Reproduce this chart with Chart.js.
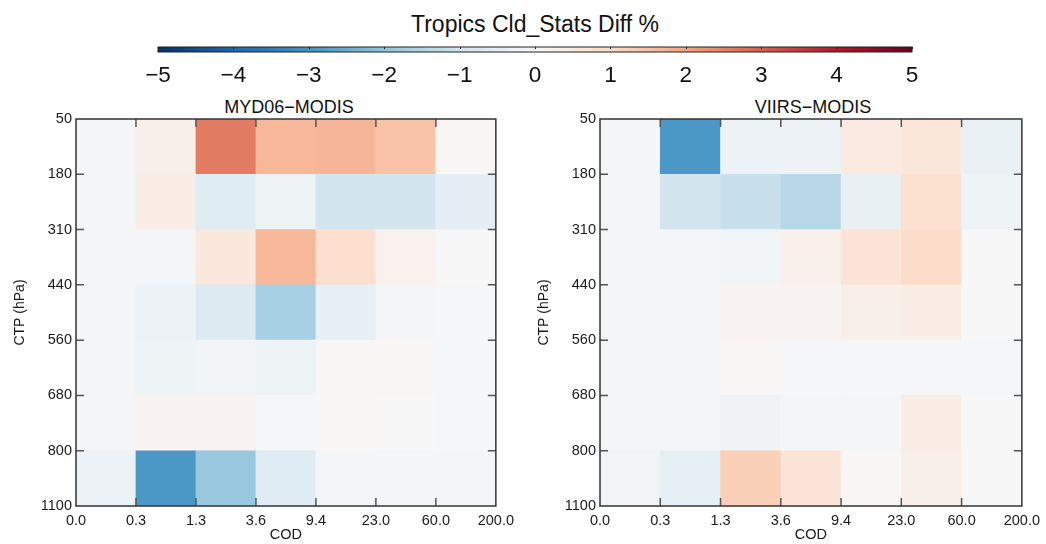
<!DOCTYPE html>
<html>
<head>
<meta charset="utf-8">
<script src="https://cdn.jsdelivr.net/npm/chart.js@4"></script>
<style>
  html, body { margin: 0; padding: 0; background: #fff; }
  body { width: 1046px; height: 544px; position: relative; overflow: hidden;
         font-family: "Liberation Sans", Arial, Helvetica, sans-serif; color: #111; }
  canvas { position: absolute; }
  .txt { position: absolute; white-space: nowrap; text-align: center; }
</style>
</head>
<body>
<div class="txt" id="mainTitle" style="left:335px;width:400px;top:13px;font-size:23px;line-height:23px;">Tropics Cld_Stats Diff %</div>
<div class="txt" style="left:189px;width:200px;top:98px;font-size:18px;line-height:18px;">MYD06−MODIS</div>
<div class="txt" style="left:713px;width:200px;top:98px;font-size:18px;line-height:18px;">VIIRS−MODIS</div>
<canvas id="cbar" width="870" height="100" style="left:100px;top:0px;"></canvas>
<canvas id="left" width="520" height="454" style="left:0px;top:90px;"></canvas>
<canvas id="right" width="522" height="454" style="left:524px;top:90px;"></canvas>
<script>
// ---------------- data ----------------
const codLabels = ['0.0', '0.3', '1.3', '3.6', '9.4', '23.0', '60.0', '200.0'];
const ctpLabels = ['50', '180', '310', '440', '560', '680', '800', '1100'];
const colorbarTicks = [-5, -4, -3, -2, -1, 0, 1, 2, 3, 4, 5];

// rows top (50-180 hPa) to bottom (800-1100 hPa), columns COD bins left to right
const myd06Diff = [
  [-0.10,  0.30,  2.60,  1.65,  1.70,  1.45,  0.05],
  [-0.10,  0.35, -0.60, -0.25, -0.95, -0.95, -0.50],
  [-0.10, -0.10,  0.55,  1.65,  0.85,  0.20,  0.00],
  [-0.10, -0.30, -0.70, -1.65, -0.45, -0.10, -0.05],
  [-0.10, -0.25, -0.15, -0.25,  0.05,  0.05, -0.05],
  [-0.10,  0.15,  0.15, -0.05,  0.05,  0.00, -0.05],
  [-0.30, -2.90, -1.90, -0.60, -0.10, -0.10, -0.10]
];
const viirsDiff = [
  [-0.10, -2.90, -0.30, -0.30,  0.45,  0.60, -0.35],
  [-0.10, -0.95, -1.15, -1.40, -0.40,  0.80, -0.25],
  [-0.10, -0.10, -0.15,  0.25,  0.70,  0.95,  0.00],
  [-0.10, -0.10,  0.15,  0.15,  0.30,  0.35,  0.00],
  [-0.10, -0.10,  0.05, -0.05, -0.05, -0.05, -0.05],
  [-0.10, -0.10, -0.20, -0.10, -0.10,  0.35,  0.00],
  [-0.15, -0.45,  1.20,  0.70,  0.05,  0.30,  0.00]
];

// ---------------- colour map (RdBu, -5 .. 5) ----------------
const rdbu = ['#053061','#2166ac','#4393c3','#92c5de','#d1e5f0','#f7f7f7',
              '#fddbc7','#f4a582','#d6604d','#b2182b','#67001f'];
function hex2rgb(h) { return [1,3,5].map(i => parseInt(h.substr(i,2),16)); }
function colorFor(v) {
  let t = Math.max(-5, Math.min(5, v)) + 5;
  let i = Math.min(9, Math.floor(t));
  const f = t - i;
  const a = hex2rgb(rdbu[i]), b = hex2rgb(rdbu[i+1]);
  const c = a.map((x, k) => Math.round(x + (b[k] - x) * f));
  return 'rgb(' + c.join(',') + ')';
}

const FONT = '"Liberation Sans", Arial, Helvetica, sans-serif';
Chart.defaults.font.family = FONT;
Chart.defaults.color = '#1a1a1a';

// frame + inward tick marks
const frameTicks = {
  id: 'frameTicks',
  afterDatasetsDraw(chart) {
    const {ctx, chartArea: a, scales: {x, y}} = chart;
    const L = 8;
    ctx.save();
    ctx.lineWidth = 1.5;
    ctx.strokeStyle = '#555';
    ctx.beginPath();
    for (let i = 1; i < codLabels.length - 1; i++) {
      const px = x.getPixelForValue(i);
      ctx.moveTo(px, a.top); ctx.lineTo(px, a.top + L);
      ctx.moveTo(px, a.bottom); ctx.lineTo(px, a.bottom - L);
    }
    for (let i = 1; i < ctpLabels.length - 1; i++) {
      const py = y.getPixelForValue(i);
      ctx.moveTo(a.left, py); ctx.lineTo(a.left + L, py);
      ctx.moveTo(a.right, py); ctx.lineTo(a.right - L, py);
    }
    ctx.stroke();
    ctx.strokeStyle = '#333';
    ctx.strokeRect(a.left, a.top, a.right - a.left, a.bottom - a.top);
    ctx.restore();
  }
};

function makeHeatmap(id, values, rightPad) {
  const pts = [], cols = [];
  values.forEach((row, r) => row.forEach((v, c) => {
    pts.push({x: c + 0.5, y: [r, r + 1]});
    cols.push(colorFor(v));
  }));
  return new Chart(document.getElementById(id), {
    type: 'bar',
    data: { datasets: [{ data: pts, backgroundColor: cols, borderWidth: 0,
                         barPercentage: 1, categoryPercentage: 1 }] },
    options: {
      responsive: false, animation: false,
      layout: { padding: { top: 29, right: rightPad, left: 0, bottom: 0 } },
      plugins: { legend: { display: false }, tooltip: { enabled: false } },
      scales: {
        x: {
          type: 'linear', min: 0, max: codLabels.length - 1, offset: false,
          grid: { display: false, drawTicks: false, offset: false }, border: { display: false },
          ticks: { stepSize: 1, autoSkip: false, maxRotation: 0, padding: 6,
                   font: { size: 14.5 }, callback: v => codLabels[v] },
          title: { display: true, text: 'COD', font: { size: 14.5 }, padding: { top: 0, bottom: 0 } },
          afterFit: s => { s.height = 38; }
        },
        y: {
          type: 'linear', min: 0, max: ctpLabels.length - 1, reverse: true,
          grid: { display: false, drawTicks: false }, border: { display: false },
          ticks: { stepSize: 1, autoSkip: false, padding: 4,
                   font: { size: 14.5 }, callback: v => ctpLabels[v] },
          title: { display: true, text: 'CTP (hPa)', font: { size: 14 }, padding: { top: 12, bottom: 0 } },
          afterFit: s => { s.width = 76; }
        }
      }
    },
    plugins: [frameTicks]
  });
}

makeHeatmap('left', myd06Diff, 18.5);
makeHeatmap('right', viirsDiff, 20.5);

// colour bar
const cbarFrame = {
  id: 'cbarFrame',
  afterDatasetsDraw(chart) {
    const {ctx, chartArea: a, scales: {x}} = chart;
    ctx.save();
    ctx.lineWidth = 1;
    ctx.strokeStyle = '#222';
    ctx.beginPath();
    colorbarTicks.forEach(v => {
      const px = Math.round(x.getPixelForValue(v)) + 0.5;
      ctx.moveTo(px, a.top); ctx.lineTo(px, a.top + 2);
    });
    ctx.stroke();
    ctx.strokeRect(a.left, a.top, a.right - a.left, a.bottom - a.top);
    ctx.restore();
  }
};
new Chart(document.getElementById('cbar'), {
  type: 'bar',
  data: { labels: [''], datasets: [{
    data: [[colorbarTicks[0], colorbarTicks[colorbarTicks.length - 1]]],
    borderWidth: 0, barPercentage: 1, categoryPercentage: 1,
    backgroundColor: ctx => {
      const ch = ctx.chart;
      if (!ch.chartArea) return '#ccc';
      const x = ch.scales.x;
      const x0 = x.getPixelForValue(-5), x1 = x.getPixelForValue(5);
      const g = ch.ctx.createLinearGradient(x0, 0, x1, 0);
      rdbu.forEach((c, i) => g.addColorStop(i / (rdbu.length - 1), c));
      return g;
    }
  }] },
  options: {
    indexAxis: 'y', responsive: false, animation: false,
    layout: { padding: { top: 47, left: 58, right: 58, bottom: 0 } },
    plugins: { legend: { display: false }, tooltip: { enabled: false } },
    scales: {
      y: { display: false },
      x: {
        type: 'linear', min: -5, max: 5,
        grid: { display: false, drawTicks: false }, border: { display: false },
        ticks: { stepSize: 1, autoSkip: false, maxRotation: 0, padding: 10,
                 font: { size: 22.5 }, color: '#111',
                 callback: v => String(v).replace('-', '\u2212') },
        afterFit: s => { s.height = 48; }
      }
    }
  },
  plugins: [cbarFrame]
});
</script>
</body>
</html>
